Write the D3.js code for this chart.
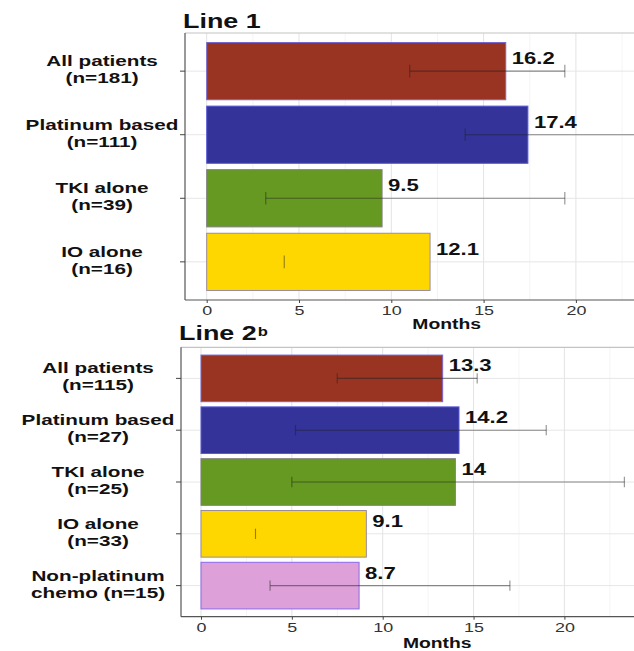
<!DOCTYPE html>
<html>
<head>
<meta charset="utf-8">
<script src="https://cdn.jsdelivr.net/npm/d3@7"></script>
<style>
  html, body { margin: 0; padding: 0; background: #fff; }
  svg { display: block; font-family: "Liberation Sans", Arial, Helvetica, sans-serif; }
</style>
</head>
<body>
<svg id="chart" width="634" height="651"></svg>
<script>
// ---- data -------------------------------------------------------------
const line1Groups = ["All patients|(n=181)", "Platinum based|(n=111)", "TKI alone|(n=39)", "IO alone|(n=16)"];
const line1Median = [16.2, 17.4, 9.5, 12.1];
const line1Lower  = [11.0, 14.0, 3.2, 4.2];
const line1Upper  = [19.4, 24.0, 19.4, null];

const line2Groups = ["All patients|(n=115)", "Platinum based|(n=27)", "TKI alone|(n=25)", "IO alone|(n=33)", "Non-platinum|chemo (n=15)"];
const line2Median = [13.3, 14.2, 14, 9.1, 8.7];
const line2Lower  = [7.5, 5.2, 5.0, 3.0, 3.8];
const line2Upper  = [15.2, 19.0, 23.3, null, 17.0];

const xTicks = [0, 5, 10, 15, 20];
const xMinor = [2.5, 7.5, 12.5, 17.5, 22.5];

// ---- styling ------------------------------------------------------------
const fills    = ["#993322", "#333399", "#669922", "#FFD700", "#DDA0D8"];
const outlines = ["#7566d0", "#5a5ad8", "#7f7f7f", "#9a8c9a", "#8a6ae8"];
const SX = 1.38;          // horizontal stretch of the lettering

const svg = d3.select("#chart");

function stext(g, x, y, str, anchor, size, weight, color) {
  return g.append("text")
    .attr("transform", `translate(${x},${y}) scale(${SX},1)`)
    .attr("text-anchor", anchor)
    .attr("font-size", size)
    .attr("font-weight", weight)
    .attr("fill", color)
    .text(str);
}

function panel(cfg) {
  const { groups, median, lower, upper, left, top, bottom, zeroX, perUnit, title, titleY, monthsY, sup } = cfg;
  const g = svg.append("g");
  const right = 760;

  const x = d3.scaleLinear().domain([0, 25]).range([zeroX, zeroX + 25 * perUnit]);
  const y = d3.scaleBand().domain(groups).range([top, bottom])
    .paddingInner(0.1).paddingOuter(0.15);

  // grid
  g.selectAll(".minor").data(xMinor).join("line")
    .attr("x1", d => x(d)).attr("x2", d => x(d))
    .attr("y1", top).attr("y2", bottom)
    .attr("stroke", "#f1f1f1").attr("stroke-width", 0.8);
  g.selectAll(".major").data(xTicks.concat([25])).join("line")
    .attr("x1", d => x(d)).attr("x2", d => x(d))
    .attr("y1", top).attr("y2", bottom)
    .attr("stroke", "#e3e3e3").attr("stroke-width", 1);
  g.selectAll(".hgrid").data(groups).join("line")
    .attr("x1", left).attr("x2", right)
    .attr("y1", d => y(d) + y.bandwidth() / 2).attr("y2", d => y(d) + y.bandwidth() / 2)
    .attr("stroke", "#e6e6e6").attr("stroke-width", 1);

  // panel border
  g.append("line").attr("x1", left).attr("x2", right).attr("y1", top).attr("y2", top)
    .attr("stroke", "#c4c4c4").attr("stroke-width", 1.2);

  // bars
  g.selectAll(".bar").data(groups).join("rect")
    .attr("x", x(0))
    .attr("y", d => y(d))
    .attr("width", (d, i) => x(median[i]) - x(0))
    .attr("height", y.bandwidth())
    .attr("fill", (d, i) => fills[i])
    .attr("stroke", (d, i) => outlines[i])
    .attr("stroke-width", 1);

  // interval bars
  const capH = y.bandwidth() * 0.22;
  const eb = g.append("g").attr("stroke", "#222").attr("stroke-opacity", 0.5).attr("stroke-width", 1.1);
  groups.forEach((d, i) => {
    const cy = y(d) + y.bandwidth() / 2;
    if (upper[i] != null) {
      eb.append("line").attr("x1", x(lower[i])).attr("x2", x(upper[i])).attr("y1", cy).attr("y2", cy);
      eb.append("line").attr("x1", x(upper[i])).attr("x2", x(upper[i])).attr("y1", cy - capH / 2).attr("y2", cy + capH / 2);
    }
    eb.append("line").attr("x1", x(lower[i])).attr("x2", x(lower[i])).attr("y1", cy - capH / 2).attr("y2", cy + capH / 2);
  });

  // value labels
  groups.forEach((d, i) => {
    const cy = y(d) + y.bandwidth() / 2;
    stext(g, x(median[i]) + 6, cy - 7, String(median[i]), "start", 16, "bold", "#111");
  });

  // axes lines
  g.append("line").attr("x1", left).attr("x2", left).attr("y1", top).attr("y2", bottom)
    .attr("stroke", "#555").attr("stroke-width", 1.2);
  g.append("line").attr("x1", left).attr("x2", right).attr("y1", bottom).attr("y2", bottom)
    .attr("stroke", "#555").attr("stroke-width", 1.2);

  // x axis
  const xa = g.append("g").attr("transform", `translate(0,${bottom})`)
    .call(d3.axisBottom(x).tickValues(xTicks).tickSize(3).tickPadding(3));
  xa.select(".domain").remove();
  xa.selectAll(".tick line").attr("stroke", "#444");
  xa.selectAll(".tick text")
    .attr("font-family", null)
    .attr("font-size", 13).attr("fill", "#333")
    .attr("transform", `scale(${SX},1)`);

  // y axis ticks
  const ya = g.append("g").attr("transform", `translate(${left},0)`)
    .call(d3.axisLeft(y).tickSize(5).tickFormat(""));
  ya.select(".domain").remove();
  ya.selectAll(".tick line").attr("stroke", "#444");

  // category labels, two centred lines per band
  const labels = groups.map(d => {
    const cy = y(d) + y.bandwidth() / 2;
    const [a, b] = d.split("|");
    return [stext(g, 0, cy - 5, a, "middle", 15, "bold", "#111"),
            stext(g, 0, cy + 12, b, "middle", 15, "bold", "#111"), cy];
  });
  let maxW = 0;
  labels.forEach(([t1, t2]) => {
    maxW = Math.max(maxW, t1.node().getComputedTextLength() * SX, t2.node().getComputedTextLength() * SX);
  });
  const cx = left - 6.5 - maxW / 2;
  labels.forEach(([t1, t2, cy]) => {
    t1.attr("transform", `translate(${cx},${cy - 5}) scale(${SX},1)`);
    t2.attr("transform", `translate(${cx},${cy + 12}) scale(${SX},1)`);
  });

  // x title
  stext(g, x(13), monthsY, "Months", "middle", 14, "bold", "#111");

  // panel title
  const t = stext(g, left - 2, titleY, title, "start", 19.5, "bold", "#111");
  if (sup) {
    const w = t.node().getComputedTextLength() * SX;
    stext(g, left - 2 + w + 1, titleY - 4, sup, "start", 12, "bold", "#111");
  }
}

panel({
  groups: line1Groups, median: line1Median, lower: line1Lower, upper: line1Upper,
  left: 185, top: 33, bottom: 300, zeroX: 206.7, perUnit: 18.46,
  title: "Line 1", titleY: 27.5, monthsY: 328.5
});

panel({
  groups: line2Groups, median: line2Median, lower: line2Lower, upper: line2Upper,
  left: 181, top: 347.3, bottom: 616.7, zeroX: 201, perUnit: 18.17,
  title: "Line 2", sup: "b", titleY: 340, monthsY: 648.3
});
</script>
</body>
</html>
